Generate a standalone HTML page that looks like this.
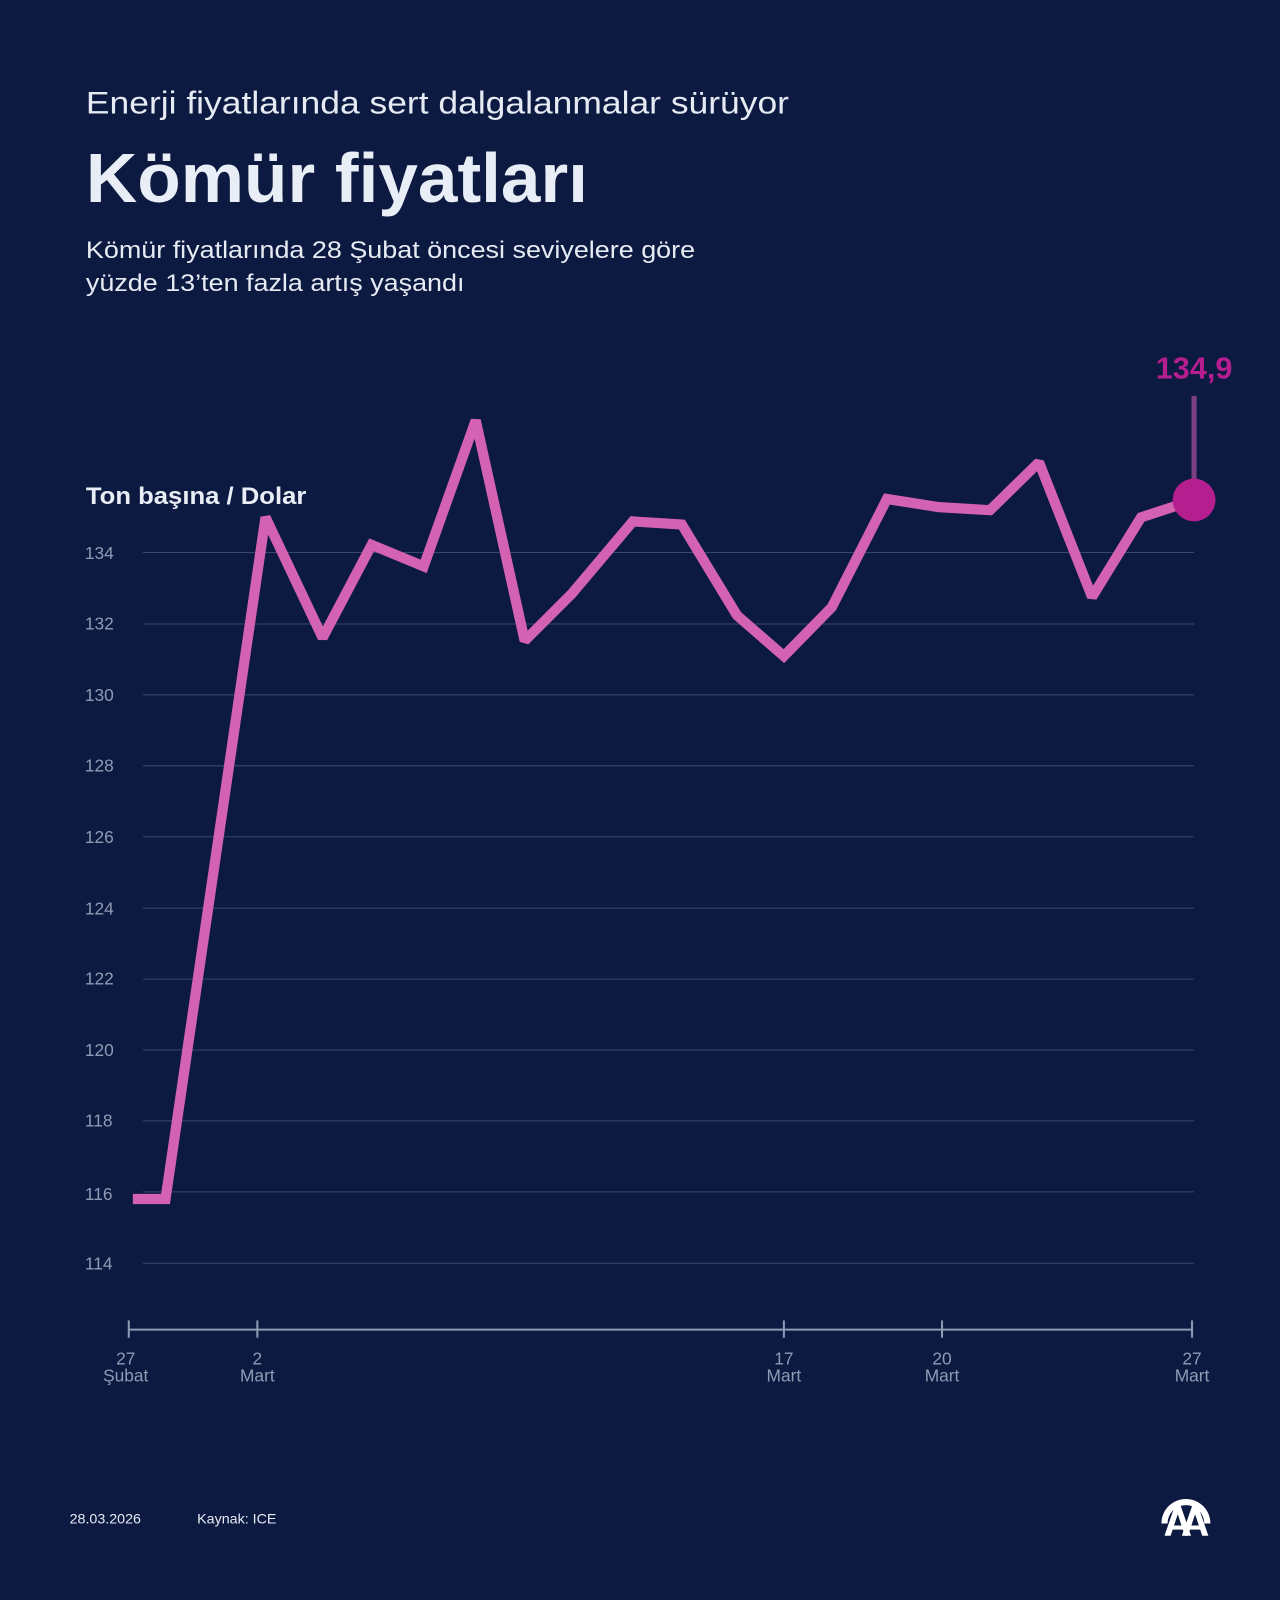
<!DOCTYPE html>
<html><head><meta charset="utf-8"><style>
html,body{margin:0;padding:0;background:#0c1940;}
svg{display:block;}
text{font-family:"Liberation Sans",sans-serif;}
</style></head><body>
<svg width="1280" height="1600" viewBox="0 0 1254 1568" xmlns="http://www.w3.org/2000/svg">
<rect width="1254" height="1568" fill="#0c1940"/>
<text x="84" y="111" font-size="31" fill="#e6ebf3" textLength="689" lengthAdjust="spacingAndGlyphs">Enerji fiyatlarında sert dalgalanmalar sürüyor</text>
<text x="84" y="198" font-size="68" font-weight="bold" fill="#e9eef6" textLength="492" lengthAdjust="spacingAndGlyphs">Kömür fiyatları</text>
<text x="84" y="253" font-size="24" fill="#e6ebf3" textLength="597" lengthAdjust="spacingAndGlyphs">Kömür fiyatlarında 28 Şubat öncesi seviyelere göre</text>
<text x="84" y="285" font-size="24" fill="#e6ebf3" textLength="371" lengthAdjust="spacingAndGlyphs">yüzde 13’ten fazla artış yaşandı</text>
<text x="84" y="494" font-size="24" font-weight="bold" fill="#e9eef6" textLength="216" lengthAdjust="spacingAndGlyphs">Ton başına / Dolar</text>
<g stroke="#3a4868" stroke-width="1">
<line x1="140" x2="1170" y1="541.5" y2="541.5"/><line x1="140" x2="1170" y1="611.5" y2="611.5"/>
<line x1="140" x2="1170" y1="681" y2="681"/><line x1="140" x2="1170" y1="750.5" y2="750.5"/>
<line x1="140" x2="1170" y1="820" y2="820"/><line x1="140" x2="1170" y1="890" y2="890"/>
<line x1="140" x2="1170" y1="959.5" y2="959.5"/><line x1="140" x2="1170" y1="1029" y2="1029"/>
<line x1="140" x2="1170" y1="1098.5" y2="1098.5"/><line x1="140" x2="1170" y1="1168" y2="1168"/>
<line x1="140" x2="1170" y1="1238" y2="1238"/>
</g>
<g font-size="17" fill="#8f9bb5">
<text x="83" y="548">134</text><text x="83" y="617">132</text><text x="83" y="687">130</text>
<text x="83" y="756">128</text><text x="83" y="826">126</text><text x="83" y="896">124</text>
<text x="83" y="965">122</text><text x="83" y="1035">120</text><text x="83" y="1104">118</text>
<text x="83" y="1176">116</text><text x="83" y="1244">114</text>
</g>
<g stroke="#8f9bb5" stroke-width="2">
<line x1="126" x2="1169" y1="1303" y2="1303"/>
<line x1="126" x2="126" y1="1294" y2="1311"/><line x1="252" x2="252" y1="1294" y2="1311"/>
<line x1="768" x2="768" y1="1294" y2="1311"/><line x1="923" x2="923" y1="1294" y2="1311"/>
<line x1="1168" x2="1168" y1="1294" y2="1311"/>
</g>
<g font-size="17" fill="#8f9bb5" text-anchor="middle">
<text x="123" y="1337">27</text><text x="123" y="1354">Şubat</text>
<text x="252" y="1337">2</text><text x="252" y="1354">Mart</text>
<text x="768" y="1337">17</text><text x="768" y="1354">Mart</text>
<text x="923" y="1337">20</text><text x="923" y="1354">Mart</text>
<text x="1168" y="1337">27</text><text x="1168" y="1354">Mart</text>
</g>
<line x1="1170" x2="1170" y1="388" y2="480" stroke="#7b3f83" stroke-width="5"/>
<polyline fill="none" stroke="#d462b2" stroke-width="10" stroke-linejoin="miter" stroke-miterlimit="1.5" points="130,1175 162,1175 260,507 316,625 364,534 415,555 466,412 514,628 560,582 620,511 668,514 722,603 768,643 815,595 869,489 920,497 970,500 1018,453 1070,585 1118,507 1170,490"/>
<circle cx="1170" cy="490" r="21" fill="#b51e8e"/>
<text x="1170" y="371" font-size="30" font-weight="bold" fill="#b51e8e" text-anchor="middle">134,9</text>
<text x="68" y="1493" font-size="14" fill="#e6ebf3">28.03.2026</text>
<text x="193" y="1493" font-size="14" fill="#e6ebf3">Kaynak: ICE</text>
<g fill="#ffffff">
<path d="M1138 1493 A24 24 0 1 1 1186 1493 L1180 1493 A18 18 0 1 0 1144 1493 Z" />
<path d="M1141 1505 L1151 1476 L1157 1476 L1167 1505 L1161 1505 L1154 1484 L1147 1505 Z"/>
<path d="M1158 1505 L1168 1476 L1174 1476 L1184 1505 L1178 1505 L1171 1484 L1164 1505 Z"/>
<rect x="1147" y="1495" width="14" height="4"/><rect x="1164" y="1495" width="14" height="4"/>
</g>
</svg>
</body></html>
